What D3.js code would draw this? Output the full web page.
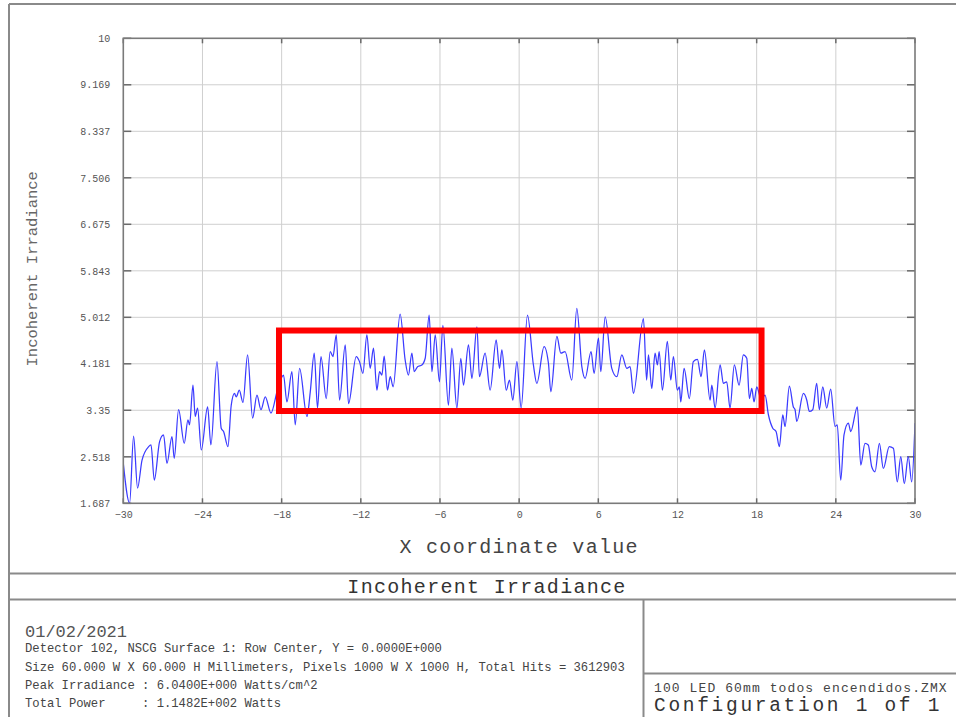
<!DOCTYPE html>
<html>
<head>
<meta charset="utf-8">
<script src="https://cdn.jsdelivr.net/npm/d3@7"></script>
<style>
  html, body { margin: 0; padding: 0; background: #fff; }
  svg { display: block; }
  text { font-family: "Liberation Mono", "DejaVu Sans Mono", monospace; }
</style>
</head>
<body>
<svg id="chart" width="956" height="717"></svg>
<script>
// ---------------- data ----------------
const xTicks = [-30, -24, -18, -12, -6, 0, 6, 12, 18, 24, 30];
const yTicks = [1.687, 2.518, 3.35, 4.181, 5.012, 5.843, 6.675, 7.506, 8.337, 9.169, 10];
const yTickLabels = ["1.687", "2.518", "3.35", "4.181", "5.012", "5.843", "6.675", "7.506", "8.337", "9.169", "10"];

const xCoord = [
  -30.00, -29.52, -29.22, -28.92, -28.58, -28.08, -27.90, -27.65, -27.25, -26.95,
  -26.69, -26.31, -26.14, -25.81, -25.38, -25.10, -24.98, -24.72, -24.55, -24.37,
  -24.09, -23.61, -23.36, -22.90, -22.58, -22.40, -22.07, -21.82, -21.57, -21.44,
  -21.21, -20.93, -20.58, -20.20, -19.87, -19.57, -19.24, -18.81, -18.33, -17.86,
  -17.60, -17.22, -16.97, -16.64, -16.08, -15.83, -15.53, -15.28, -15.02, -14.62,
  -14.32, -14.11, -13.86, -13.61, -13.18, -12.93, -12.35, -12.10, -11.84, -11.54,
  -11.29, -11.04, -10.78, -10.58, -10.40, -10.23, -9.98, -9.77, -9.55, -9.02,
  -8.64, -8.39, -8.13, -7.95, -7.70, -7.37, -7.12, -6.82, -6.61, -6.36,
  -6.04, -5.78, -5.36, -5.10, -4.72, -4.42, -4.22, -3.84, -3.58, -3.20,
  -3.01, -2.58, -2.20, -1.74, -1.49, -1.31, -0.98, -0.73, -0.48, -0.17,
  0.15, 0.63, 1.08, 1.34, 1.89, 2.22, 2.40, 2.86, 3.16, 3.48,
  3.99, 4.37, 4.75, 5.00, 5.45, 5.68, 6.01, 6.19, 6.52, 7.02,
  7.40, 7.78, 8.16, 8.41, 8.66, 9.42, 9.66, 9.80, 10.05, 10.30,
  10.48, 10.61, 10.86, 11.23, 11.49, 11.69, 11.99, 12.14, 12.25, 12.50,
  12.90, 13.20, 13.51, 13.79, 14.04, 14.47, 14.60, 14.85, 15.23, 15.48,
  15.73, 15.98, 16.31, 16.67, 16.99, 17.25, 17.45, 17.63, 17.80, 18.01,
  18.33, 18.64, 18.89, 19.22, 19.47, 19.72, 19.98, 20.15, 20.48, 20.78,
  20.91, 21.04, 21.54, 21.80, 21.99, 22.25, 22.55, 22.75, 23.01, 23.31,
  23.61, 23.94, 24.11, 24.37, 24.62, 24.95, 25.13, 25.63, 25.89, 26.21,
  26.46, 26.72, 26.97, 27.30, 27.60, 28.05, 28.36, 28.66, 28.92, 29.19,
  29.49, 29.75, 30.00
];
const irradiance = [
  2.40, 1.69, 2.89, 1.96, 2.46, 2.70, 2.73, 2.10, 2.79, 2.91,
  2.40, 2.88, 2.49, 3.36, 2.76, 3.18, 3.09, 3.80, 3.24, 3.39,
  2.64, 3.41, 2.73, 4.22, 3.03, 2.97, 2.70, 3.44, 3.65, 3.59,
  3.71, 3.49, 4.34, 3.21, 3.62, 3.36, 3.59, 3.30, 3.70, 3.98,
  3.50, 4.04, 3.09, 4.10, 3.24, 3.68, 4.37, 3.39, 4.31, 3.56,
  4.40, 4.31, 4.70, 3.53, 4.52, 3.47, 4.31, 4.22, 4.01, 4.70,
  4.10, 4.46, 3.71, 4.04, 3.98, 4.32, 3.71, 3.95, 3.77, 5.07,
  4.25, 3.98, 4.37, 4.04, 4.13, 4.16, 4.28, 5.05, 4.04, 4.70,
  3.86, 4.87, 3.44, 4.46, 3.39, 4.28, 3.80, 4.52, 3.92, 4.84,
  3.95, 4.37, 3.71, 4.61, 4.10, 4.43, 3.71, 3.89, 3.53, 4.22,
  3.39, 5.05, 4.16, 3.83, 4.49, 4.19, 3.68, 4.67, 4.37, 4.40,
  3.89, 5.17, 4.13, 3.92, 4.40, 4.01, 4.64, 4.04, 5.02, 4.10,
  3.95, 4.34, 4.10, 4.13, 3.65, 4.99, 3.89, 4.34, 3.74, 4.37,
  4.16, 4.40, 3.71, 4.58, 3.89, 4.31, 3.71, 3.77, 3.50, 4.10,
  3.56, 4.22, 4.26, 3.95, 4.43, 3.53, 3.80, 3.39, 4.16, 3.83,
  3.86, 3.39, 4.16, 3.80, 4.34, 4.28, 3.56, 3.74, 3.50, 3.77,
  3.55, 3.62, 3.27, 3.03, 2.97, 2.70, 3.27, 3.06, 3.78, 3.41,
  3.36, 3.15, 3.65, 3.53, 3.33, 3.36, 3.83, 3.36, 3.77, 3.39,
  3.73, 3.06, 3.09, 2.10, 2.91, 3.12, 2.97, 3.41, 2.37, 2.76,
  2.73, 2.34, 2.25, 2.76, 2.31, 2.70, 2.67, 2.07, 2.52, 2.04,
  2.52, 2.07, 3.12
];

// highlighted region (red box), in data units
const highlightX = [-18.2, 18.37];
const highlightY = [3.337, 4.776];

const titleText = "Incoherent Irradiance";
const xLabel = "X coordinate value";
const yLabel = "Incoherent Irradiance";
const infoDate = "01/02/2021";
const infoLines = [
  "Detector 102, NSCG Surface 1: Row Center, Y = 0.0000E+000",
  "Size 60.000 W X 60.000 H Millimeters, Pixels 1000 W X 1000 H, Total Hits = 3612903",
  "Peak Irradiance : 6.0400E+000 Watts/cm^2",
  "Total Power     : 1.1482E+002 Watts"
];
const fileName = "100 LED 60mm todos encendidos.ZMX";
const configText = "Configuration 1 of 1";

// ---------------- layout ----------------
const svg = d3.select("#chart");
const L = 123.3, R = 915, T = 38.3, B = 503.3;

const x = d3.scaleLinear().domain([-30, 30]).range([L, R]);
const y = d3.scaleLinear().domain([1.687, 10]).range([B, T]);

// outer frame & panels
const frameColor = "#8a8a8a";
svg.append("line").attr("x1", 9).attr("x2", 956).attr("y1", 4).attr("y2", 4)
  .attr("stroke", frameColor).attr("stroke-width", 2);
svg.append("line").attr("x1", 9).attr("x2", 9).attr("y1", 4).attr("y2", 717)
  .attr("stroke", frameColor).attr("stroke-width", 2);
svg.append("line").attr("x1", 9).attr("x2", 956).attr("y1", 573.5).attr("y2", 573.5)
  .attr("stroke", frameColor).attr("stroke-width", 2);
svg.append("line").attr("x1", 9).attr("x2", 956).attr("y1", 599.5).attr("y2", 599.5)
  .attr("stroke", frameColor).attr("stroke-width", 2);
svg.append("line").attr("x1", 643.5).attr("x2", 643.5).attr("y1", 599.5).attr("y2", 717)
  .attr("stroke", frameColor).attr("stroke-width", 2);
svg.append("line").attr("x1", 643.5).attr("x2", 956).attr("y1", 673.5).attr("y2", 673.5)
  .attr("stroke", frameColor).attr("stroke-width", 2);

// grid
const grid = svg.append("g");
grid.selectAll(".gx").data(xTicks.slice(1, -1)).join("line")
  .attr("x1", d => x(d)).attr("x2", d => x(d)).attr("y1", T).attr("y2", B)
  .attr("stroke", "#cfcfcf").attr("stroke-width", 1);
grid.selectAll(".gy").data(yTicks.slice(1, -1)).join("line")
  .attr("x1", L).attr("x2", R).attr("y1", d => y(d)).attr("y2", d => y(d))
  .attr("stroke", "#cfcfcf").attr("stroke-width", 1);

// inner tick marks
const tickColor = "#6a6a6a";
const tk = svg.append("g");
tk.selectAll(".tl").data(yTicks).join("line")
  .attr("x1", L).attr("x2", L + 8).attr("y1", d => y(d)).attr("y2", d => y(d))
  .attr("stroke", tickColor).attr("stroke-width", 1.5);
tk.selectAll(".tr").data(yTicks).join("line")
  .attr("x1", R - 8).attr("x2", R).attr("y1", d => y(d)).attr("y2", d => y(d))
  .attr("stroke", tickColor).attr("stroke-width", 1.5);
tk.selectAll(".tt").data(xTicks).join("line")
  .attr("x1", d => x(d)).attr("x2", d => x(d)).attr("y1", T).attr("y2", T + 5)
  .attr("stroke", tickColor).attr("stroke-width", 1.5);
tk.selectAll(".tb").data(xTicks).join("line")
  .attr("x1", d => x(d)).attr("x2", d => x(d)).attr("y1", B - 5).attr("y2", B)
  .attr("stroke", tickColor).attr("stroke-width", 1.5);

// curve
svg.append("defs").append("clipPath").attr("id", "clip")
  .append("rect").attr("x", L).attr("y", T).attr("width", R - L).attr("height", B - T);
const pts = xCoord.map((v, i) => [v, irradiance[i]]);
const line = d3.line().x(d => x(d[0])).y(d => y(d[1])).curve(d3.curveMonotoneX);
svg.append("path").datum(pts)
  .attr("clip-path", "url(#clip)")
  .attr("d", line)
  .attr("fill", "none")
  .attr("stroke", "#3b3bff")
  .attr("stroke-width", 1.25);

// plot frame
svg.append("rect").attr("x", L).attr("y", T).attr("width", R - L).attr("height", B - T)
  .attr("fill", "none").attr("stroke", "#7a7a7a").attr("stroke-width", 1.6);

// axes labels via d3 axes
const xAxis = d3.axisBottom(x).tickValues(xTicks).tickSize(0).tickPadding(8)
  .tickFormat(d3.format("d"));
const gx = svg.append("g").attr("transform", `translate(0,${B})`).call(xAxis);
gx.select(".domain").remove();
gx.selectAll("text").attr("font-family", "Liberation Mono, monospace")
  .attr("font-size", 10).attr("fill", "#555");

const yAxis = d3.axisLeft(y).tickValues(yTicks).tickSize(0).tickPadding(13)
  .tickFormat((d, i) => yTickLabels[i]);
const gy = svg.append("g").attr("transform", `translate(${L},0)`).call(yAxis);
gy.select(".domain").remove();
gy.selectAll("text").attr("font-family", "Liberation Mono, monospace")
  .attr("font-size", 10).attr("fill", "#555");

// axis titles
svg.append("text")
  .attr("transform", `translate(37,${(T + B) / 2 - 2}) rotate(-90)`)
  .attr("text-anchor", "middle")
  .attr("font-size", 15.5)
  .attr("fill", "#666")
  .text(yLabel);

svg.append("text")
  .attr("x", (L + R) / 2).attr("y", 553)
  .attr("text-anchor", "middle")
  .attr("font-size", 20)
  .attr("letter-spacing", 1.3)
  .attr("fill", "#444")
  .text(xLabel);

// red highlight box
svg.append("rect")
  .attr("x", x(highlightX[0])).attr("y", y(highlightY[1]))
  .attr("width", x(highlightX[1]) - x(highlightX[0]))
  .attr("height", y(highlightY[0]) - y(highlightY[1]))
  .attr("fill", "none").attr("stroke", "#ff0000").attr("stroke-width", 6);

// bottom panel
svg.append("text")
  .attr("x", 487).attr("y", 593)
  .attr("text-anchor", "middle")
  .attr("font-size", 20)
  .attr("letter-spacing", 1.3)
  .attr("fill", "#333")
  .text(titleText);

svg.append("text").attr("x", 25).attr("y", 637)
  .attr("font-size", 17).attr("fill", "#555").text(infoDate);

const infoY = [652, 670.5, 689, 707];
svg.selectAll(".info").data(infoLines).join("text")
  .attr("x", 25).attr("y", (d, i) => infoY[i])
  .attr("font-size", 12.2).attr("fill", "#444")
  .attr("xml:space", "preserve")
  .style("white-space", "pre")
  .text(d => d);

svg.append("text").attr("x", 654).attr("y", 692)
  .attr("font-size", 13).attr("letter-spacing", 1.1).attr("fill", "#444")
  .text(fileName);
svg.append("text").attr("x", 654).attr("y", 711)
  .attr("font-size", 19.5).attr("letter-spacing", 2.7).attr("fill", "#333")
  .text(configText);
</script>
</body>
</html>
